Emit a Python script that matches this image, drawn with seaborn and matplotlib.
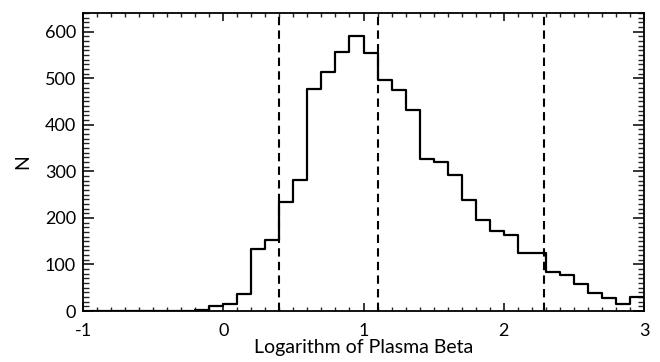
import numpy as np
import pandas as pd
import matplotlib
matplotlib.use("Agg")
import matplotlib.pyplot as plt
import seaborn as sns
from matplotlib.ticker import MultipleLocator

# --- data ---
bin_edges = [round(-1.0 + 0.1 * i, 1) for i in range(41)]
counts = [0, 0, 0, 0, 0, 0, 0, 1, 3, 10,          # -1.0 .. 0.0
          16, 36, 134, 152, 235, 281, 476, 514, 556, 591,   # 0.0 .. 1.0
          555, 496, 475, 432, 326, 319, 293, 239, 196, 171, # 1.0 .. 2.0
          163, 124, 125, 84, 77, 57, 39, 27, 16, 30]        # 2.0 .. 3.0
markers = [0.4, 1.1, 2.29]
x_ticks = [-1, 0, 1, 2, 3]
y_ticks = [0, 100, 200, 300, 400, 500, 600]
x_label = "Logarithm of Plasma Beta"
y_label = "N"

centers = [(bin_edges[i] + bin_edges[i + 1]) / 2 for i in range(len(counts))]
df = pd.DataFrame({"beta": centers, "n": counts})

sns.set_theme(style="ticks")
plt.rcParams["font.family"] = ["Lato", "DejaVu Sans"]
plt.rcParams["lines.scale_dashes"] = False

fig = plt.figure(figsize=(6.6, 3.62), dpi=100)
ax = fig.add_axes([83 / 660, 1 - 311 / 362, (644 - 83) / 660, (311 - 13) / 362])

sns.histplot(data=df, x="beta", weights="n", bins=bin_edges, element="step",
             fill=False, color="black", linewidth=1.6, ax=ax)

for m in markers:
    ax.axvline(m, color="black", linewidth=1.5, linestyle=(0, (6, 3.8)))

ax.set_xlim(-1, 3)
ax.set_ylim(0, 640)
ax.set_xticks(x_ticks)
ax.set_xticklabels([str(t) for t in x_ticks])
ax.set_yticks(y_ticks)
ax.set_yticklabels([str(t) for t in y_ticks])
ax.xaxis.set_minor_locator(MultipleLocator(0.1))
ax.yaxis.set_minor_locator(MultipleLocator(10))

ax.tick_params(axis="x", which="major", direction="in", length=6, width=1.1,
               top=True, bottom=True, labelsize=13, pad=9, colors="black")
ax.tick_params(axis="x", which="minor", direction="in", length=3, width=1.0,
               top=True, bottom=True)
ax.tick_params(axis="y", which="major", direction="in", length=8, width=1.1,
               left=True, right=True, labelsize=13, pad=5, colors="black")
ax.tick_params(axis="y", which="minor", direction="in", length=4, width=1.0,
               left=True, right=True)

for s in ax.spines.values():
    s.set_visible(True)
    s.set_linewidth(1.3)
    s.set_color("black")

ax.set_xlabel(x_label, fontsize=14, labelpad=0, color="black")
ax.set_ylabel(y_label, fontsize=14, labelpad=10, color="black")

fig.savefig("out.png", dpi=100)
